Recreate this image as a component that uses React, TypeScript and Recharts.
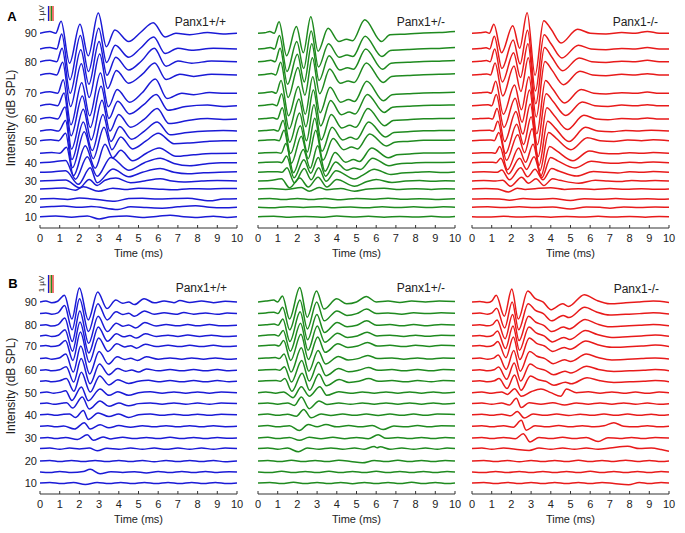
import React from 'react'
import { LineChart, Line, XAxis, YAxis } from 'recharts'

// stimulus levels (dB SPL), one trace per level, bottom to top
const levels = [10, 15, 20, 25, 30, 35, 40, 45, 50, 55, 60, 65, 70, 75, 80, 85, 90]
const timeTicks = [0, 1, 2, 3, 4, 5, 6, 7, 8, 9, 10]

// baseline offset of every trace (µV), row A and row B
const baseA = [0, 0.63, 1.18, 1.85, 2.38, 2.96, 3.6, 4.23, 5.07, 5.71, 6.51, 7.4, 8.23, 9.45, 10.33, 11.18, 12.23]
const baseB = [0, 0.61, 1.22, 1.91, 2.5, 3.15, 3.79, 4.41, 5.02, 5.65, 6.26, 6.91, 7.61, 8.17, 8.76, 9.41, 10.06]

// each trace: time (ms), amplitude (µV) pairs
const a1Waves = [
  [0,0, 0.8,0.05, 1.6,-0.03, 2.4,0.05, 3.0,-0.15, 3.6,0, 4.4,0.05, 5.2,-0.05, 6.0,0.03, 6.6,0.1, 7.3,0, 8.0,-0.05, 8.8,0.03, 9.5,-0.05, 10,0],
  [0,0, 0.6,0.05, 1.2,0.08, 2.0,0, 2.6,0.05, 3.95,-0.15, 4.6,0.03, 5.4,-0.02, 6.2,-0.06, 7.0,0.03, 7.9,0.1, 8.6,0, 9.3,-0.04, 10,0],
  [0,0, 0.7,0.03, 1.4,-0.03, 2.0,0.06, 2.9,-0.04, 3.8,-0.15, 4.5,0.03, 5.2,0.05, 6.0,0, 6.8,0.03, 7.5,0.05, 8.6,-0.12, 9.3,0, 10,0.02],
  [0,0, 0.6,0.03, 1.2,0.06, 1.8,-0.08, 2.2,0.15, 2.97,-0.15, 3.7,0.05, 4.3,-0.03, 5.0,0.04, 5.9,0, 6.8,-0.06, 7.6,0.02, 8.5,0, 9.3,0.03, 10,0.03],
  [0,0, 0.7,0.03, 1.3,0.06, 2.0,-0.45, 2.5,0.1, 2.9,-0.3, 3.3,0.05, 3.85,0.2, 4.6,-0.12, 5.3,0, 6.1,0.15, 6.7,0, 7.3,-0.06, 8.2,0, 9.0,0.03, 10,0],
  [0,0, 0.7,0.04, 1.3,0.1, 1.95,-0.8, 2.55,0.3, 2.9,-0.7, 3.7,0.22, 4.5,-0.3, 5.2,0, 6.1,0.25, 6.8,0, 7.5,-0.1, 8.3,-0.03, 9.1,0, 10,0.03],
  [0,0, 0.6,0.05, 1.3,0.15, 1.8,-1.1, 2.4,0.4, 2.9,-0.9, 3.6,0.35, 4.5,-0.5, 5.3,0, 6.1,0.3, 6.8,-0.05, 7.6,-0.2, 8.4,-0.08, 9.2,0, 10,0],
  [0,0, 0.6,0.05, 1.0,0, 1.35,0.4, 1.7,-1.5, 2.3,0.5, 2.8,-1.0, 3.3,0.6, 3.7,-0.3, 4.1,0.2, 4.7,-0.5, 5.4,0, 6.05,0.35, 6.9,-0.2, 7.8,-0.1, 8.7,-0.02, 10,0],
  [0,0, 0.55,0.06, 0.95,0, 1.3,0.5, 1.65,-1.8, 2.25,0.6, 2.7,-1.2, 3.25,0.9, 3.65,-0.6, 4.1,0.25, 4.7,-0.55, 5.4,0, 6.0,0.5, 6.8,-0.2, 7.6,-0.15, 8.5,-0.05, 9.3,0, 10,0],
  [0,0, 0.55,0.08, 0.95,0, 1.3,0.7, 1.62,-1.9, 2.2,0.6, 2.65,-1.3, 3.2,1.1, 3.6,-0.7, 4.05,0.3, 4.65,-0.55, 5.3,0, 5.95,0.6, 6.6,-0.25, 7.5,-0.1, 8.5,0, 9.3,0.03, 10,0],
  [0,0, 0.5,0.1, 0.9,0, 1.27,0.8, 1.6,-2.0, 2.2,0.65, 2.6,-1.4, 3.15,1.25, 3.55,-0.8, 4.0,0.3, 4.6,-0.55, 5.3,0, 5.95,0.7, 6.55,-0.3, 7.5,-0.1, 8.5,0.03, 9.3,-0.03, 10,0],
  [0,0, 0.5,0.1, 0.9,0, 1.22,0.85, 1.58,-2.0, 2.15,0.65, 2.55,-1.45, 3.1,1.3, 3.5,-0.85, 3.95,0.3, 4.55,-0.55, 5.25,0.05, 5.9,0.75, 6.5,-0.3, 7.4,-0.05, 8.5,0.05, 9.3,-0.05, 10,0],
  [0,0, 0.5,0.1, 0.9,0, 1.18,0.9, 1.57,-2.1, 2.12,0.7, 2.52,-1.5, 3.07,1.35, 3.47,-0.9, 3.92,0.25, 4.55,-0.6, 5.2,0.05, 5.85,0.95, 6.45,-0.35, 7.2,0, 7.8,-0.1, 8.6,0.05, 9.4,0, 10,0],
  [0,0, 0.5,0.1, 0.85,0, 1.15,0.85, 1.55,-2.1, 2.1,0.75, 2.5,-1.5, 3.03,1.4, 3.43,-0.9, 3.88,0.3, 4.5,-0.55, 5.2,0.05, 5.82,0.8, 6.4,-0.3, 7.1,0.05, 7.8,-0.1, 8.7,0.05, 10,0],
  [0,0, 0.5,0.1, 0.85,0, 1.12,0.9, 1.53,-2.1, 2.07,0.8, 2.48,-1.5, 3.0,1.35, 3.4,-0.9, 3.85,0.3, 4.5,-0.55, 5.15,0.05, 5.8,0.9, 6.4,-0.3, 7.0,0.05, 7.7,-0.1, 8.7,0.05, 10,0],
  [0,0, 0.5,0.1, 0.85,0, 1.1,1.0, 1.52,-2.05, 2.05,0.9, 2.46,-1.5, 2.98,1.38, 3.38,-0.9, 3.82,0.25, 4.5,-0.55, 5.1,0.05, 5.77,0.8, 6.35,-0.3, 7.0,0.05, 7.7,-0.08, 8.8,0.05, 10,0],
  [0,0, 0.5,0.12, 0.8,0, 1.07,0.8, 1.5,-2.0, 2.03,0.6, 2.45,-1.5, 2.96,1.35, 3.37,-0.9, 3.8,0.22, 4.5,-0.55, 5.1,0.05, 5.75,0.7, 6.35,-0.25, 6.9,0, 7.6,-0.1, 8.5,0.05, 9.3,-0.05, 10,0],
]

const a2Waves = [
  [0,0, 0.8,0.03, 1.6,-0.04, 2.4,0.02, 3.2,-0.03, 4.0,0.04, 4.8,-0.02, 5.6,0.03, 6.4,-0.03, 7.2,0.02, 8.0,-0.02, 8.8,0.03, 9.5,-0.02, 10,0.02],
  [0,0, 0.7,-0.03, 1.5,0.04, 2.3,-0.02, 3.1,0.04, 3.9,-0.03, 4.7,0.02, 5.5,-0.04, 6.3,0.03, 7.1,-0.02, 7.9,0.03, 8.7,-0.02, 9.4,0.03, 10,0],
  [0,0, 0.6,0.03, 1.3,-0.04, 2.0,0.04, 2.7,-0.04, 3.4,0.03, 4.2,-0.05, 5.0,0.04, 5.8,-0.02, 6.6,0.05, 7.4,-0.02, 8.2,0.02, 9.0,-0.03, 10,0.02],
  [0,0, 0.7,0.03, 1.4,-0.03, 2.2,0.1, 2.6,-0.15, 3.1,0.1, 3.5,-0.05, 4.2,0.03, 4.9,-0.15, 5.6,0, 6.4,0.04, 7.2,-0.03, 8.0,0.02, 8.8,-0.03, 9.5,0.02, 10,0],
  [0,0, 0.6,0.03, 1.19,0.15, 1.6,-0.45, 2.12,0.2, 2.55,-0.4, 3.05,0.25, 3.5,-0.4, 4.0,0.1, 4.9,-0.35, 5.5,-0.05, 6.0,0.1, 6.8,-0.1, 7.5,0, 8.2,0.03, 8.9,-0.02, 9.5,0.02, 10,0],
  [0,0, 0.5,0.03, 1.0,0.04, 1.22,0, 1.47,0.3, 1.85,-0.7, 2.35,0.25, 2.7,-0.5, 3.08,0.3, 3.45,-0.6, 3.96,0.1, 4.9,-0.45, 5.3,-0.2, 5.9,0.2, 6.75,-0.15, 7.3,-0.05, 8.0,0, 8.7,0.03, 9.4,-0.02, 10,0.02],
  [0,0, 0.4,0.03, 1.0,0.05, 1.2,0, 1.45,0.45, 1.83,-1.0, 2.33,0.2, 2.68,-0.7, 3.06,0.35, 3.43,-0.9, 3.94,0.05, 4.5,-0.5, 4.88,-0.35, 5.2,-0.45, 5.82,0.3, 6.65,-0.2, 7.1,-0.08, 7.8,-0.03, 8.5,0.02, 9.2,0.02, 10,0.03],
  [0,0, 0.35,0.03, 0.95,0.05, 1.17,0, 1.42,0.65, 1.8,-1.3, 2.3,0.25, 2.65,-1.0, 3.03,0.5, 3.4,-1.2, 3.91,0.05, 4.45,-0.6, 4.85,-0.42, 5.15,-0.55, 5.77,0.35, 6.62,-0.3, 7.05,-0.1, 7.7,-0.05, 8.4,0.02, 9.2,0.02, 10,0.03],
  [0,0, 0.35,0.03, 0.85,0.06, 1.07,0, 1.32,0.7, 1.7,-1.5, 2.2,0.3, 2.55,-1.2, 2.93,0.7, 3.3,-1.3, 3.81,0.15, 4.35,-0.6, 4.75,-0.42, 5.05,-0.55, 5.67,0.45, 6.52,-0.35, 6.95,-0.1, 7.6,-0.05, 8.4,0.02, 9.2,0.03, 10,0.04],
  [0,0, 0.35,0.03, 0.8,0.08, 1.02,0, 1.27,0.7, 1.65,-1.5, 2.15,0.35, 2.5,-1.4, 2.88,0.85, 3.25,-1.35, 3.76,0.25, 4.3,-0.6, 4.7,-0.42, 5.0,-0.55, 5.62,0.6, 6.47,-0.4, 6.9,-0.1, 7.6,-0.05, 8.4,0.02, 9.2,0.03, 10,0.04],
  [0,0, 0.35,0.03, 0.76,0.08, 0.98,0, 1.23,0.75, 1.61,-1.55, 2.11,0.4, 2.46,-1.45, 2.84,0.95, 3.21,-1.4, 3.72,0.3, 4.26,-0.6, 4.66,-0.42, 4.96,-0.55, 5.58,0.7, 6.43,-0.45, 6.86,-0.1, 7.6,-0.05, 8.4,0.02, 9.2,0.03, 10,0.05],
  [0,0, 0.35,0.03, 0.73,0.1, 0.95,0, 1.2,0.8, 1.58,-1.55, 2.08,0.45, 2.43,-1.4, 2.81,1.05, 3.18,-1.35, 3.69,0.35, 4.23,-0.6, 4.63,-0.42, 4.93,-0.55, 5.55,0.75, 6.4,-0.45, 6.83,-0.1, 7.6,-0.04, 8.4,0.02, 9.2,0.03, 10,0.05],
  [0,0, 0.35,0.03, 0.7,0.1, 0.92,0, 1.17,0.85, 1.55,-1.5, 2.05,0.45, 2.4,-1.4, 2.78,1.1, 3.15,-1.3, 3.66,0.4, 4.2,-0.6, 4.6,-0.42, 4.9,-0.55, 5.52,0.8, 6.37,-0.5, 6.8,-0.1, 7.6,-0.04, 8.4,0.02, 9.2,0.04, 10,0.06],
  [0,0, 0.35,0.03, 0.68,0.1, 0.9,0, 1.15,0.85, 1.53,-1.5, 2.03,0.5, 2.38,-1.35, 2.76,1.15, 3.13,-1.25, 3.64,0.4, 4.18,-0.55, 4.58,-0.4, 4.88,-0.5, 5.5,0.8, 6.35,-0.5, 6.78,-0.1, 7.6,-0.04, 8.4,0.02, 9.2,0.04, 10,0.08],
  [0,0, 0.35,0.03, 0.65,0.1, 0.87,0, 1.12,0.9, 1.5,-1.5, 2.0,0.5, 2.35,-1.35, 2.73,1.2, 3.1,-1.25, 3.61,0.4, 4.15,-0.55, 4.55,-0.4, 4.85,-0.5, 5.47,0.85, 6.32,-0.5, 6.75,-0.1, 7.6,-0.04, 8.4,0.02, 9.2,0.04, 10,0.08],
  [0,0, 0.35,0.03, 0.62,0.1, 0.84,0, 1.09,0.9, 1.47,-1.5, 1.97,0.5, 2.32,-1.3, 2.7,1.2, 3.07,-1.2, 3.58,0.35, 4.12,-0.55, 4.52,-0.4, 4.82,-0.5, 5.44,0.85, 6.29,-0.5, 6.72,-0.1, 7.6,-0.03, 8.4,0.02, 9.2,0.04, 10,0.1],
  [0,0, 0.35,0.03, 0.6,0.12, 0.82,0, 1.07,0.77, 1.45,-1.5, 1.95,0.45, 2.3,-1.3, 2.68,1.1, 3.05,-1.2, 3.56,0.33, 4.1,-0.55, 4.5,-0.4, 4.8,-0.5, 5.42,0.9, 6.27,-0.55, 6.7,-0.1, 7.6,-0.05, 8.4,0.02, 9.2,0.05, 10,0.12],
]

const a3Waves = [
  [0,0, 0.8,-0.02, 1.6,0.03, 2.4,-0.02, 3.2,0.02, 4.0,-0.03, 4.8,0.02, 5.6,-0.02, 6.4,0.03, 7.2,-0.02, 8.0,0.02, 8.8,-0.03, 9.5,0.02, 10,0],
  [0,0, 0.8,0.03, 1.6,-0.02, 2.4,0.03, 3.2,-0.02, 4.1,0.02, 5.0,-0.12, 5.8,0.02, 6.5,0, 7.0,-0.06, 7.7,0.02, 8.5,-0.02, 9.3,0.02, 10,0],
  [0,0, 0.7,0.02, 1.4,0, 1.9,-0.08, 2.6,0.03, 3.3,-0.02, 4.1,0.03, 5.0,-0.1, 5.7,0.02, 6.5,-0.02, 7.3,0.03, 8.1,-0.02, 8.9,0.02, 9.6,-0.02, 10,0],
  [0,0, 0.7,0.03, 1.3,0, 1.85,-0.2, 2.3,0.05, 2.7,-0.03, 3.2,0.02, 4.0,0.08, 4.7,-0.03, 5.4,0.02, 6.2,-0.03, 7.0,0.03, 7.8,-0.02, 8.6,0.02, 9.3,-0.02, 10,0],
  [0,0, 0.6,0.03, 1.2,0, 1.56,0.05, 1.95,-0.35, 2.52,0.25, 2.87,-0.15, 3.25,0.15, 3.65,-0.3, 4.09,0.15, 4.45,0.05, 5.42,-0.15, 6.26,0.05, 6.9,0, 7.5,-0.04, 8.1,0.03, 8.7,0, 9.3,0.04, 10,0],
  [0,0, 0.6,0.03, 1.28,0, 1.51,0.15, 1.9,-0.5, 2.47,0.3, 2.82,-0.3, 3.2,0.2, 3.6,-0.5, 4.04,0.25, 4.4,0.09, 5.32,-0.25, 6.16,0.05, 6.8,0, 7.4,-0.04, 8.0,0.03, 8.6,0, 9.2,0.05, 10,0],
  [0,0, 0.5,0.03, 1.05,0.03, 1.23,0, 1.46,0.3, 1.85,-0.75, 2.42,0.3, 2.77,-0.45, 3.15,0.4, 3.55,-1.0, 3.99,0.35, 4.35,0.12, 5.22,-0.35, 6.06,0.1, 6.7,0, 7.3,-0.04, 8.0,0.03, 8.6,0, 9.2,0.05, 10,0],
  [0,0, 0.5,0.03, 1.0,0.04, 1.18,0, 1.41,0.45, 1.8,-1.1, 2.37,0.35, 2.72,-0.6, 3.1,0.6, 3.5,-1.5, 3.94,0.45, 4.3,0.16, 5.12,-0.5, 5.96,0.15, 6.6,0, 7.3,-0.04, 8.0,0.04, 8.6,0, 9.2,0.05, 10,0],
  [0,0, 0.4,0.03, 0.95,0.05, 1.13,0, 1.36,0.55, 1.75,-1.3, 2.32,0.4, 2.67,-0.8, 3.05,0.8, 3.45,-2.0, 3.89,0.55, 4.25,0.19, 5.02,-0.6, 5.86,0.2, 6.5,0, 7.2,-0.05, 7.9,0.04, 8.6,0, 9.2,0.06, 10,0],
  [0,0, 0.4,0.03, 0.9,0.05, 1.08,0, 1.31,0.65, 1.7,-1.5, 2.27,0.45, 2.62,-0.9, 3.0,0.95, 3.4,-2.3, 3.84,0.65, 4.2,0.23, 4.92,-0.7, 5.76,0.25, 6.4,0, 7.1,-0.05, 7.8,0.04, 8.5,0, 9.1,0.06, 10,0],
  [0,0, 0.4,0.03, 0.86,0.06, 1.04,0, 1.27,0.7, 1.66,-1.5, 2.23,0.5, 2.58,-1.0, 2.96,1.0, 3.36,-2.5, 3.8,0.75, 4.16,0.26, 4.84,-0.7, 5.68,0.25, 6.32,0, 6.9,-0.05, 7.6,0.04, 8.3,0, 8.9,0.07, 9.5,0, 10,0],
  [0,0, 0.4,0.03, 0.82,0.06, 1.0,0, 1.23,0.75, 1.62,-1.45, 2.19,0.5, 2.54,-1.1, 2.92,1.05, 3.32,-2.6, 3.76,0.8, 4.12,0.28, 4.76,-0.65, 5.6,0.25, 6.24,0, 6.9,-0.05, 7.6,0.04, 8.3,0, 8.9,0.07, 9.5,0, 10,0],
  [0,0, 0.4,0.03, 0.79,0.07, 0.97,0, 1.2,0.8, 1.59,-1.4, 2.16,0.55, 2.51,-1.1, 2.89,1.1, 3.29,-2.7, 3.73,0.85, 4.09,0.3, 4.7,-0.65, 5.54,0.25, 6.18,0, 6.8,-0.05, 7.6,0.04, 8.3,0, 8.9,0.08, 9.5,0, 10,0],
  [0,0, 0.4,0.03, 0.76,0.07, 0.94,0, 1.17,0.8, 1.56,-1.4, 2.13,0.6, 2.48,-1.1, 2.86,1.15, 3.26,-2.8, 3.7,0.9, 4.06,0.32, 4.64,-0.65, 5.48,0.25, 6.12,0, 6.8,-0.05, 7.6,0.04, 8.3,0, 8.9,0.08, 9.5,0, 10,0],
  [0,0, 0.4,0.03, 0.74,0.08, 0.92,0, 1.15,0.85, 1.54,-1.35, 2.11,0.6, 2.46,-1.05, 2.84,1.2, 3.24,-2.8, 3.68,0.95, 4.04,0.33, 4.6,-0.6, 5.44,0.25, 6.08,0, 6.8,-0.05, 7.6,0.04, 8.3,0, 8.9,0.1, 9.5,0, 10,0],
  [0,0, 0.4,0.03, 0.72,0.08, 0.9,0, 1.13,0.85, 1.52,-1.3, 2.09,0.6, 2.44,-1.0, 2.82,1.25, 3.22,-2.8, 3.66,0.95, 4.02,0.33, 4.56,-0.6, 5.4,0.25, 6.04,0, 6.8,-0.05, 7.6,0.04, 8.3,0, 8.9,0.1, 9.5,0, 10,0],
  [0,0, 0.4,0.03, 0.7,0.08, 0.88,0, 1.11,0.6, 1.5,-1.3, 2.07,0.5, 2.42,-1.0, 2.8,1.37, 3.2,-2.8, 3.64,0.84, 4.0,0.3, 4.52,-0.65, 5.36,0.27, 6.0,0, 6.8,-0.05, 7.6,0.05, 8.3,0, 8.9,0.12, 9.5,0, 10,0],
]

const b1Waves = [
  [0,0, 0.5,0.03, 1.1,-0.03, 1.7,0.03, 2.3,-0.08, 2.9,0.03, 3.5,-0.03, 4.1,0.03, 4.7,-0.03, 5.3,0.03, 5.9,-0.03, 6.5,0.03, 7.1,-0.03, 7.7,0.03, 8.3,-0.03, 8.9,0.03, 9.5,-0.03, 10,0],
  [0,0, 0.5,-0.03, 1.0,0.03, 1.6,-0.03, 2.2,0.03, 2.55,0.15, 3.05,-0.1, 3.6,0.02, 4.2,-0.03, 4.8,0.02, 5.4,-0.05, 6.0,0.03, 6.6,-0.03, 7.2,0.03, 7.8,-0.03, 8.4,0.03, 9.0,-0.03, 9.6,0.02, 10,0],
  [0,0, 0.5,0.03, 1.0,-0.03, 1.6,0.03, 2.2,-0.03, 2.8,0.03, 3.4,-0.03, 4.0,0.03, 4.6,-0.03, 5.2,0.03, 5.8,-0.04, 6.4,0.03, 7.0,-0.03, 7.6,0.03, 8.2,-0.03, 8.8,0.03, 9.4,-0.04, 10,0],
  [0,0, 0.5,0.03, 1.0,-0.03, 1.5,0.03, 2.0,-0.02, 2.5,0.03, 2.9,-0.12, 3.4,0.02, 4.0,-0.03, 4.6,0.03, 5.2,-0.03, 5.8,0.03, 6.4,-0.04, 7.0,0.03, 7.6,-0.03, 8.2,0.03, 8.8,-0.03, 9.4,0.03, 10,0],
  [0,0, 0.4,0.03, 0.8,-0.03, 1.3,0.03, 1.9,-0.08, 2.4,0.18, 2.7,-0.13, 3.2,0.05, 3.6,-0.05, 4.2,0.04, 4.8,-0.03, 5.4,0.03, 6.0,-0.03, 6.6,0.04, 7.2,-0.03, 7.8,0.03, 8.4,-0.03, 9.0,0.03, 9.6,-0.02, 10,0],
  [0,0, 0.4,0.03, 0.8,-0.03, 1.2,0.02, 1.75,-0.15, 2.25,0.2, 2.55,-0.15, 3.05,0.08, 3.5,-0.08, 4.0,0.04, 4.6,-0.05, 5.2,0.03, 5.8,-0.03, 6.4,0.03, 7.0,-0.03, 7.6,0.03, 8.2,-0.03, 8.8,0.03, 9.4,-0.02, 10,0],
  [0,0, 0.4,0.03, 0.8,-0.03, 1.2,0.03, 1.5,0.05, 1.8,-0.15, 2.2,0.24, 2.45,-0.26, 2.95,0.1, 3.5,-0.1, 4.0,0.04, 4.5,-0.15, 5.0,0, 5.6,0.04, 6.2,-0.03, 6.8,0.03, 7.4,-0.03, 8.0,0.03, 8.6,-0.03, 9.2,0.03, 10,0],
  [0,0, 0.35,0.03, 0.7,-0.03, 1.1,0.02, 1.35,0.05, 1.65,-0.25, 2.15,0.37, 2.5,-0.3, 3.05,0.15, 3.5,-0.15, 4.0,0.03, 4.5,-0.12, 5.0,0, 5.6,0.04, 6.2,-0.03, 6.8,0.04, 7.4,-0.03, 8.0,0.03, 8.6,-0.03, 9.2,0.03, 10,0],
  [0,0, 0.35,0.03, 0.7,-0.03, 1.02,0.02, 1.3,0.1, 1.62,-0.43, 2.1,0.32, 2.45,-0.45, 3.05,0.2, 3.5,-0.15, 3.95,0.05, 4.5,-0.15, 5.0,0, 5.6,0.05, 6.2,-0.03, 6.8,0.04, 7.4,-0.03, 8.0,0.04, 8.6,-0.03, 9.2,0.04, 10,0],
  [0,0, 0.3,0.03, 0.6,-0.03, 1.0,0.03, 1.34,0.15, 1.72,-0.55, 2.1,0.5, 2.55,-0.6, 3.03,0.3, 3.5,-0.2, 3.95,0.08, 4.5,-0.12, 5.0,0, 5.5,0.06, 6.0,-0.03, 6.6,0.04, 7.2,-0.03, 7.8,0.04, 8.4,-0.03, 9.0,0.04, 9.6,-0.02, 10,0],
  [0,0, 0.3,0.03, 0.6,-0.03, 0.99,0.03, 1.33,0.2, 1.71,-0.65, 2.09,0.65, 2.54,-0.75, 3.02,0.35, 3.49,-0.25, 3.94,0.1, 4.35,-0.05, 4.65,0.02, 5.0,-0.1, 5.4,0.08, 6.0,-0.03, 6.6,0.04, 7.2,-0.03, 7.8,0.04, 8.4,-0.03, 9.0,0.04, 9.6,-0.02, 10,0],
  [0,0, 0.3,0.03, 0.6,-0.03, 0.97,0.03, 1.31,0.25, 1.69,-0.75, 2.07,0.7, 2.52,-0.85, 3.0,0.4, 3.47,-0.3, 3.92,0.1, 4.3,-0.05, 4.6,0.02, 4.95,-0.1, 5.4,0.1, 6.0,-0.03, 6.6,0.04, 7.2,-0.03, 7.7,0.04, 8.3,-0.03, 8.9,0.04, 9.5,-0.03, 10,0],
  [0,0, 0.3,0.03, 0.6,-0.03, 0.95,0.03, 1.29,0.3, 1.67,-0.8, 2.05,0.78, 2.5,-0.9, 2.98,0.45, 3.45,-0.3, 3.9,0.12, 4.3,-0.05, 4.6,0.02, 4.9,-0.12, 5.35,0.1, 5.9,-0.03, 6.5,0.04, 7.1,-0.03, 7.6,0.04, 8.2,-0.03, 8.8,0.04, 9.4,-0.03, 10,0],
  [0,0, 0.3,0.04, 0.6,-0.03, 0.93,0.04, 1.27,0.35, 1.65,-0.85, 2.03,0.78, 2.48,-0.95, 2.96,0.5, 3.43,-0.3, 3.88,0.12, 4.25,-0.05, 4.55,0.02, 4.9,-0.12, 5.35,0.12, 5.9,-0.03, 6.5,0.04, 7.0,-0.03, 7.5,0.05, 8.1,-0.03, 8.7,0.04, 9.3,-0.03, 10,0],
  [0,0, 0.3,0.03, 0.6,-0.04, 0.92,0.04, 1.26,0.4, 1.64,-0.9, 2.02,0.8, 2.47,-1.0, 2.95,0.5, 3.42,-0.35, 3.87,0.12, 4.2,-0.05, 4.5,0.02, 4.85,-0.15, 5.32,0.15, 5.9,-0.04, 6.4,0.05, 7.0,-0.03, 7.5,0.05, 8.0,-0.03, 8.6,0.04, 9.2,-0.03, 10,0],
  [0,0, 0.3,0.04, 0.6,-0.03, 0.91,0.04, 1.25,0.45, 1.63,-0.9, 2.01,0.83, 2.46,-1.0, 2.94,0.55, 3.41,-0.35, 3.86,0.1, 4.2,-0.05, 4.5,0.02, 4.8,-0.15, 5.3,0.15, 5.8,-0.04, 6.3,0.05, 6.9,-0.04, 7.3,0.06, 7.8,-0.03, 8.4,0.04, 9.0,-0.04, 9.5,0.03, 10,0],
  [0,0, 0.3,0.05, 0.6,-0.04, 0.9,0.04, 1.24,0.37, 1.62,-0.95, 2.0,0.78, 2.45,-1.0, 2.93,0.55, 3.4,-0.37, 3.85,0.1, 4.2,-0.08, 4.5,0, 4.8,-0.15, 5.28,0.18, 5.8,-0.05, 6.3,0.05, 6.8,-0.04, 7.1,0.08, 7.6,-0.03, 8.2,0.05, 8.8,-0.04, 9.4,0.04, 10,0],
]

const b2Waves = [
  [0,0, 0.6,0.03, 1.2,-0.03, 1.8,0.04, 2.4,-0.03, 3.0,0.03, 3.6,-0.03, 4.2,0.03, 4.8,-0.04, 5.4,0.03, 6.0,-0.03, 6.6,0.03, 7.2,-0.03, 7.8,0.04, 8.4,-0.03, 9.0,0.03, 9.6,-0.03, 10,0],
  [0,0, 0.6,-0.03, 1.2,0.04, 1.8,-0.03, 2.4,0.03, 3.0,-0.03, 3.6,0.04, 4.2,-0.03, 4.8,0.03, 5.4,-0.03, 6.0,0.04, 6.6,-0.03, 7.2,0.03, 7.8,-0.03, 8.4,0.03, 9.0,-0.03, 9.6,0.03, 10,0],
  [0,0, 0.5,0.03, 1.1,-0.03, 1.7,0.04, 2.3,-0.03, 2.9,0.03, 3.5,-0.03, 4.1,0.04, 4.7,-0.02, 5.3,-0.1, 5.9,0.03, 6.5,-0.03, 7.1,0.04, 7.7,-0.03, 8.3,0.03, 8.9,-0.03, 9.5,0.03, 10,0],
  [0,0, 0.5,0.04, 1.0,-0.03, 1.5,0.03, 2.05,-0.18, 2.5,0.03, 3.1,-0.03, 3.7,0.04, 4.3,-0.03, 4.9,0.03, 5.4,-0.03, 5.9,0.12, 6.05,0.05, 6.2,0.1, 6.7,-0.03, 7.3,0.03, 7.9,-0.03, 8.5,0.03, 9.1,-0.03, 9.6,0.03, 10,0],
  [0,0, 0.5,0.04, 1.0,-0.03, 1.6,0.03, 2.1,-0.13, 2.6,0.04, 3.2,-0.04, 3.8,0.04, 4.4,-0.04, 5.0,0.03, 5.6,-0.04, 6.1,0.18, 6.5,-0.02, 7.1,0.03, 7.7,-0.03, 8.3,0.03, 8.9,-0.03, 9.5,0.03, 10,0],
  [0,0, 0.5,0.04, 1.0,-0.03, 1.6,0.03, 2.1,-0.24, 2.55,0.1, 3.0,-0.03, 3.45,0.1, 4.0,-0.03, 4.6,0.04, 5.2,-0.03, 5.8,0.04, 6.35,-0.18, 6.9,0.02, 7.5,-0.03, 8.1,0.04, 8.7,-0.03, 9.3,0.03, 10,0.02],
  [0,0, 0.5,0.04, 1.0,-0.03, 1.5,0.03, 1.95,-0.08, 2.32,0.3, 2.7,-0.17, 3.2,0.05, 3.7,-0.04, 4.3,0.04, 4.9,-0.03, 5.5,0.04, 6.1,-0.04, 6.7,0.04, 7.3,-0.03, 7.9,0.04, 8.5,-0.03, 9.1,0.04, 10,0.02],
  [0,0, 0.5,0.04, 1.0,-0.03, 1.5,0.04, 1.85,-0.1, 2.2,0.37, 2.6,-0.28, 3.1,0.15, 3.5,-0.05, 4.1,0.04, 4.7,-0.04, 5.3,0.04, 5.9,-0.03, 6.5,0.04, 7.1,-0.03, 7.7,0.04, 8.3,-0.03, 8.9,0.04, 9.5,-0.02, 10,0.02],
  [0,0, 0.4,0.04, 0.9,-0.03, 1.3,0.04, 1.78,-0.28, 2.2,0.33, 2.6,-0.2, 3.14,0.33, 3.5,-0.15, 4.1,0.05, 4.7,-0.04, 5.3,0.04, 5.9,-0.03, 6.5,0.04, 7.1,-0.03, 7.7,0.04, 8.3,-0.03, 8.9,0.04, 9.5,-0.02, 10,0.02],
  [0,0, 0.4,0.03, 0.92,0.05, 1.12,0, 1.36,0.15, 1.72,-0.55, 2.24,0.45, 2.62,-0.5, 3.09,0.4, 3.47,-0.25, 4.12,0.1, 4.62,-0.06, 5.12,0, 5.62,0.15, 6.12,0, 6.8,0.04, 7.5,-0.03, 8.1,0.04, 8.8,-0.02, 9.4,0.04, 10,0.02],
  [0,0, 0.4,0.03, 0.9,0.05, 1.1,0, 1.34,0.2, 1.7,-0.65, 2.22,0.55, 2.6,-0.6, 3.07,0.45, 3.45,-0.3, 4.1,0.1, 4.6,-0.08, 5.1,0, 5.6,0.15, 6.1,0, 6.8,0.04, 7.4,-0.03, 8.1,0.04, 8.8,-0.02, 9.4,0.04, 10,0.02],
  [0,0, 0.4,0.03, 0.88,0.06, 1.08,0, 1.32,0.25, 1.68,-0.75, 2.2,0.6, 2.58,-0.7, 3.05,0.45, 3.43,-0.3, 4.08,0.12, 4.58,-0.08, 5.08,0, 5.58,0.18, 6.08,0, 6.8,0.04, 7.4,-0.03, 8.1,0.04, 8.7,-0.02, 9.4,0.04, 10,0.02],
  [0,0, 0.4,0.03, 0.86,0.06, 1.06,0, 1.3,0.3, 1.66,-0.8, 2.18,0.65, 2.56,-0.75, 3.03,0.5, 3.41,-0.35, 4.06,0.12, 4.56,-0.08, 5.06,0, 5.56,0.2, 6.06,0, 6.7,0.04, 7.4,-0.03, 8.0,0.04, 8.7,-0.02, 9.3,0.04, 10,0.02],
  [0,0, 0.4,0.04, 0.84,0.07, 1.04,0, 1.28,0.3, 1.64,-0.85, 2.16,0.7, 2.54,-0.8, 3.01,0.55, 3.39,-0.35, 4.04,0.15, 4.54,-0.08, 5.04,0, 5.54,0.2, 6.04,0, 6.7,0.04, 7.4,-0.03, 8.0,0.04, 8.6,-0.02, 9.3,0.04, 10,0.02],
  [0,0, 0.4,0.03, 0.82,0.07, 1.02,0, 1.26,0.35, 1.62,-0.9, 2.14,0.75, 2.52,-0.8, 2.99,0.6, 3.37,-0.4, 4.02,0.15, 4.52,-0.08, 5.02,0, 5.52,0.25, 6.02,0, 6.7,0.04, 7.3,-0.03, 7.9,0.04, 8.6,-0.02, 9.3,0.05, 10,0.02],
  [0,0, 0.4,0.04, 0.81,0.08, 1.01,0, 1.25,0.35, 1.61,-0.9, 2.13,0.75, 2.51,-0.85, 2.98,0.65, 3.36,-0.4, 4.01,0.15, 4.51,-0.1, 5.01,0, 5.51,0.25, 6.01,0, 6.6,0.04, 7.3,-0.03, 7.9,0.05, 8.6,0, 9.3,0.05, 10,0.02],
  [0,0, 0.4,0.05, 0.8,0.1, 1.0,0, 1.24,0.33, 1.6,-0.95, 2.12,0.8, 2.5,-0.85, 2.97,0.6, 3.35,-0.4, 4.0,0.17, 4.5,-0.1, 5.0,0, 5.5,0.3, 6.0,0, 6.6,0.05, 7.2,-0.03, 7.8,0.05, 8.5,0, 9.2,0.05, 10,0.02],
]

const b3Waves = [
  [0,0, 0.6,0.03, 1.2,-0.03, 1.8,0.03, 2.4,-0.03, 3.0,0.03, 3.6,-0.03, 4.2,0.03, 4.8,-0.03, 5.4,0.03, 6.0,-0.03, 6.6,0.03, 7.2,-0.03, 7.95,-0.1, 8.5,0.03, 9.0,-0.03, 9.6,0.03, 10,0],
  [0,0, 0.6,-0.03, 1.2,0.03, 1.8,-0.03, 2.4,0.03, 3.0,-0.03, 3.6,0.03, 4.2,-0.03, 4.8,0.03, 5.4,-0.03, 6.0,0.04, 6.6,-0.03, 7.2,0.03, 7.8,-0.03, 8.4,0.03, 9.0,-0.03, 9.6,0.03, 10,0],
  [0,0, 0.6,0.03, 1.2,-0.03, 1.8,0.03, 2.4,-0.04, 3.0,0.03, 3.6,-0.03, 4.2,0.03, 4.8,-0.03, 5.4,0.04, 6.0,-0.03, 6.6,0.03, 7.2,-0.03, 7.8,0.05, 8.4,-0.03, 9.0,0.03, 9.6,-0.03, 10,0],
  [0,0, 0.5,0.03, 1.0,-0.03, 1.6,0.03, 2.2,-0.03, 2.9,-0.1, 3.4,0.03, 4.0,-0.03, 4.6,0.03, 5.2,-0.03, 5.8,0.03, 6.4,-0.03, 7.0,0.03, 7.9,0.13, 8.5,0, 9.1,0.03, 9.6,-0.05, 10,-0.15],
  [0,0, 0.5,0.03, 1.0,-0.03, 1.6,0.03, 2.2,-0.04, 2.6,0.24, 2.95,-0.22, 3.4,0.03, 4.0,-0.03, 4.6,0.04, 5.2,-0.03, 5.8,0.03, 6.4,-0.2, 6.9,0.02, 7.5,-0.03, 8.1,0.03, 8.7,-0.03, 9.3,0.03, 10,0],
  [0,0, 0.5,0.03, 1.0,-0.03, 1.6,0.03, 2.1,-0.05, 2.5,0.33, 2.75,-0.22, 3.2,0.03, 3.8,-0.03, 4.4,0.04, 5.0,-0.03, 5.6,0.03, 6.2,-0.03, 6.7,0.03, 7.2,0.2, 7.7,0, 8.3,-0.03, 8.9,0.03, 9.5,-0.03, 10,0],
  [0,0, 0.5,0.03, 1.0,-0.03, 1.5,0.03, 1.95,-0.06, 2.3,0.18, 2.65,-0.18, 3.1,0.04, 3.7,-0.03, 4.3,0.04, 4.9,-0.04, 5.5,0.03, 6.1,-0.03, 6.7,0.04, 7.3,-0.03, 7.9,0.04, 8.5,-0.03, 9.1,0.03, 9.6,-0.03, 10,0],
  [0,0, 0.5,0.03, 1.0,-0.03, 1.5,0.03, 1.9,-0.08, 2.25,0.3, 2.5,-0.22, 2.9,0.05, 3.5,-0.03, 4.1,0.05, 4.7,-0.08, 5.3,0.04, 5.9,-0.03, 6.5,0.04, 7.1,-0.03, 7.7,0.04, 8.3,-0.03, 8.9,0.03, 9.5,-0.03, 10,0],
  [0,0, 0.5,0.03, 1.0,-0.03, 1.5,0.04, 1.8,-0.1, 2.16,0.22, 2.5,-0.2, 3.0,0.05, 3.5,0.2, 4.0,0, 4.5,-0.2, 4.8,0.2, 5.3,0, 5.9,0.05, 6.5,-0.03, 7.1,0.04, 7.7,-0.03, 8.3,0.03, 8.9,-0.03, 9.5,0.03, 10,0],
  [0,0, 0.4,0.03, 0.8,-0.03, 1.14,0.03, 1.37,0.15, 1.78,-0.4, 2.16,0.35, 2.49,-0.5, 2.97,0.3, 3.34,0.1, 3.74,0, 4.16,-0.22, 4.74,-0.05, 5.04,-0.14, 5.84,0.2, 6.44,0.05, 7.2,-0.06, 8.0,-0.03, 8.7,0, 9.3,0.04, 10,-0.02],
  [0,0, 0.4,0.03, 0.8,-0.03, 1.12,0.03, 1.35,0.18, 1.76,-0.5, 2.14,0.4, 2.47,-0.6, 2.95,0.35, 3.32,0.12, 3.72,0, 4.14,-0.25, 4.72,-0.05, 5.02,-0.15, 5.82,0.22, 6.42,0.05, 7.2,-0.06, 8.0,-0.03, 8.7,0, 9.3,0.04, 10,-0.02],
  [0,0, 0.4,0.03, 0.8,-0.03, 1.1,0.03, 1.33,0.2, 1.74,-0.6, 2.12,0.45, 2.45,-0.7, 2.93,0.4, 3.3,0.13, 3.7,0, 4.12,-0.28, 4.7,-0.06, 5.0,-0.16, 5.8,0.25, 6.4,0.06, 7.1,-0.07, 7.9,-0.04, 8.6,0, 9.3,0.04, 10,-0.02],
  [0,0, 0.4,0.03, 0.8,-0.03, 1.08,0.04, 1.31,0.25, 1.72,-0.65, 2.1,0.5, 2.43,-0.75, 2.91,0.45, 3.28,0.15, 3.68,0, 4.1,-0.3, 4.68,-0.08, 4.98,-0.18, 5.78,0.28, 6.38,0.07, 7.1,-0.07, 7.9,-0.04, 8.6,0, 9.3,0.05, 10,-0.02],
  [0,0, 0.4,0.03, 0.8,-0.03, 1.06,0.04, 1.29,0.28, 1.7,-0.7, 2.08,0.55, 2.41,-0.8, 2.89,0.5, 3.26,0.17, 3.66,0, 4.08,-0.33, 4.66,-0.08, 4.96,-0.2, 5.76,0.3, 6.36,0.08, 7.1,-0.08, 7.9,-0.04, 8.6,0, 9.3,0.05, 10,-0.02],
  [0,0, 0.4,0.03, 0.8,-0.03, 1.04,0.04, 1.27,0.3, 1.68,-0.75, 2.06,0.6, 2.39,-0.85, 2.87,0.5, 3.24,0.17, 3.64,0, 4.06,-0.35, 4.64,-0.1, 4.94,-0.2, 5.74,0.33, 6.34,0.08, 7.0,-0.08, 7.8,-0.04, 8.5,0, 9.2,0.05, 10,-0.02],
  [0,0, 0.4,0.03, 0.8,-0.03, 1.02,0.04, 1.25,0.3, 1.66,-0.8, 2.04,0.65, 2.37,-0.9, 2.85,0.55, 3.22,0.18, 3.62,0, 4.04,-0.4, 4.62,-0.1, 4.92,-0.22, 5.72,0.35, 6.32,0.09, 7.0,-0.08, 7.8,-0.04, 8.5,0, 9.2,0.05, 10,-0.02],
  [0,0, 0.4,0.03, 0.8,-0.03, 1.0,0.05, 1.23,0.37, 1.64,-0.8, 2.02,0.72, 2.35,-0.95, 2.83,0.6, 3.2,0.2, 3.6,0, 4.02,-0.43, 4.6,-0.1, 4.9,-0.25, 5.7,0.4, 6.3,0.1, 7.0,-0.1, 7.8,-0.05, 8.5,0, 9.2,0.05, 10,-0.03],
]

const BLUE = '#1a1ad6'
const GREEN = '#1f8a1f'
const RED = '#e81a1a'
const FONT = '"Liberation Sans", Arial, Helvetica, sans-serif'

function toPoints(flat: number[], base: number) {
  const pts: { t: number; v: number }[] = []
  for (let i = 0; i < flat.length; i += 2) pts.push({ t: flat[i], v: base + flat[i + 1] })
  return pts
}

function TimeTick(props: any) {
  const { x, y, payload } = props
  return (
    <g>
      <line x1={x} x2={x} y1={y} y2={y - 3} stroke="#333" strokeWidth={1} />
      <text x={x} y={y + 14} textAnchor="middle" fontSize={11} fill="#222" fontFamily={FONT}>
        {payload.value}
      </text>
    </g>
  )
}

interface PanelProps {
  waves: number[][]
  base: number[]
  color: string
  domain: [number, number]
  left: number
  top: number
  height: number
  marginLeft: number
  showLevels?: boolean
}

function Panel({ waves, base, color, domain, left, top, height, marginLeft, showLevels }: PanelProps) {
  const plotW = 197
  const width = (showLevels ? 40 : marginLeft) + plotW + 12
  const levelTicks = base.filter((_, i) => i % 2 === 0)
  return (
    <div style={{ position: 'absolute', left, top }}>
      <LineChart width={width} height={height} margin={{ top: 0, right: 12, bottom: 2, left: showLevels ? 0 : marginLeft }}>
        <XAxis
          type="number"
          dataKey="t"
          domain={[0, 10]}
          ticks={timeTicks}
          interval={0}
          allowDataOverflow
          height={30}
          axisLine={{ stroke: '#333', strokeWidth: 1 }}
          tickLine={false}
          tickSize={0}
          tickMargin={0}
          tick={<TimeTick />}
          label={{ value: 'Time (ms)', position: 'insideBottom', offset: 1, fontSize: 11, fill: '#222' }}
        />
        <YAxis
          type="number"
          domain={domain}
          allowDataOverflow
          hide={!showLevels}
          width={40}
          ticks={levelTicks}
          interval={0}
          axisLine={false}
          tickLine={false}
          tickSize={0}
          tickMargin={3}
          tick={{ fontSize: 11, fill: '#222' }}
          tickFormatter={(v: number) => String(levels[base.indexOf(v)])}
        />
        {waves.map((w, i) => (
          <Line
            key={i}
            data={toPoints(w, base[i])}
            dataKey="v"
            type="monotone"
            stroke={color}
            strokeWidth={1.5}
            dot={false}
            activeDot={false}
            isAnimationActive={false}
          />
        ))}
      </LineChart>
    </div>
  )
}

const domainA: [number, number] = [-0.753, 14.447]
const domainB: [number, number] = [-0.611, 12.278]

function ScaleBar({ top, h }: { top: number; h: number }) {
  const cols = [BLUE, '#c07828', GREEN, RED]
  return (
    <g>
      {cols.map((c, i) => (
        <line key={c} x1={48.5 + i * 1.5} x2={48.5 + i * 1.5} y1={top} y2={top + h} stroke={c} strokeWidth={1.2} />
      ))}
      <text
        x={41}
        y={top + h / 2}
        fontSize={8}
        textAnchor="middle"
        dominantBaseline="central"
        transform={`rotate(-90 41 ${top + h / 2})`}
        fill="#222"
      >
        1 µV
      </text>
    </g>
  )
}

export default function App() {
  return (
    <div style={{ position: 'absolute', left: 0, top: 0, width: 685, height: 533, background: '#fff', fontFamily: FONT }}>
      <Panel waves={a1Waves} base={baseA} color={BLUE} domain={domainA} left={0} top={0} height={260} marginLeft={0} showLevels />
      <Panel waves={a2Waves} base={baseA} color={GREEN} domain={domainA} left={248} top={0} height={260} marginLeft={10} />
      <Panel waves={a3Waves} base={baseA} color={RED} domain={domainA} left={462} top={0} height={260} marginLeft={10} />
      <Panel waves={b1Waves} base={baseB} color={BLUE} domain={domainB} left={0} top={262} height={264} marginLeft={0} showLevels />
      <Panel waves={b2Waves} base={baseB} color={GREEN} domain={domainB} left={248} top={262} height={264} marginLeft={10} />
      <Panel waves={b3Waves} base={baseB} color={RED} domain={domainB} left={462} top={262} height={264} marginLeft={10} />
      <svg width={685} height={533} style={{ position: 'absolute', left: 0, top: 0, pointerEvents: 'none', fontFamily: FONT }}>
        <text x={12} y={21} fontSize={13} fontWeight="bold" textAnchor="middle">A</text>
        <text x={13} y={288} fontSize={13} fontWeight="bold" textAnchor="middle">B</text>
        <ScaleBar top={6} h={15} />
        <ScaleBar top={275} h={18} />
        <text x={11} y={118} fontSize={12} textAnchor="middle" dominantBaseline="central" transform="rotate(-90 11 118)" fill="#222">
          Intensity (dB SPL)
        </text>
        <text x={11} y={386} fontSize={12} textAnchor="middle" dominantBaseline="central" transform="rotate(-90 11 386)" fill="#222">
          Intensity (dB SPL)
        </text>
        <text x={226} y={26} fontSize={12} textAnchor="end" fill="#222">Panx1+/+</text>
        <text x={445} y={26} fontSize={12} textAnchor="end" fill="#222">Panx1+/-</text>
        <text x={658} y={26} fontSize={12} textAnchor="end" fill="#222">Panx1-/-</text>
        <text x={227} y={292} fontSize={12} textAnchor="end" fill="#222">Panx1+/+</text>
        <text x={445} y={292} fontSize={12} textAnchor="end" fill="#222">Panx1+/-</text>
        <text x={659} y={293} fontSize={12} textAnchor="end" fill="#222">Panx1-/-</text>
      </svg>
    </div>
  )
}
